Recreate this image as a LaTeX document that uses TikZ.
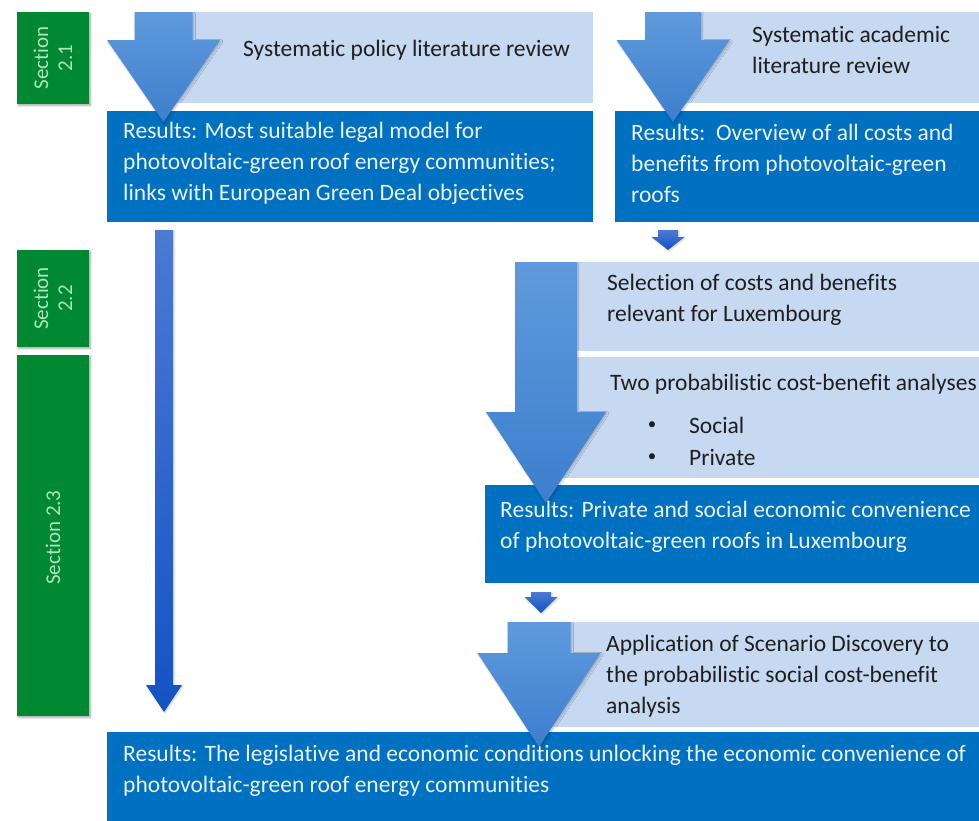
\documentclass[tikz,border=0pt]{standalone}
\usepackage{fontspec}
\setmainfont{Carlito}[Ligatures=NoCommon]
\usetikzlibrary{shadows.blur}

\definecolor{resblue}{RGB}{0,112,192}
\definecolor{steplight}{RGB}{198,217,241}
\definecolor{secgreen}{RGB}{0,136,50}
\definecolor{secgreentext}{RGB}{176,228,186}
\definecolor{restext}{RGB}{234,242,252}
\definecolor{steptext}{RGB}{30,30,30}
\definecolor{arrowtop}{RGB}{96,154,220}
\definecolor{arrowbot}{RGB}{60,126,206}
\definecolor{thintop}{RGB}{76,122,212}
\definecolor{thinbot}{RGB}{20,82,196}

\tikzset{
  box/.style={inner sep=0pt, outer sep=0pt, anchor=north west},
  lightbox/.style={box, fill=steplight},
  resbox/.style={box, fill=resblue},
  secbox/.style={box, fill=secgreen,
    blur shadow={shadow xshift=1.5pt, shadow yshift=-1.5pt, shadow blur steps=6, shadow opacity=35}},
  sectext/.style={rotate=90, text=secgreentext, align=center, inner sep=0pt,
    font=\fontsize{21}{24}\selectfont},
  steplabel/.style={anchor=west, align=left, inner sep=0pt, text=steptext,
    font=\fontsize{23.5}{31}\selectfont},
  reslabel/.style={steplabel, text=restext},
  bulletmark/.style={inner sep=0pt, text=steptext, font=\fontsize{17}{20}\selectfont},
  bigarrow/.style={top color=arrowtop, bottom color=arrowbot,
    blur shadow={shadow xshift=1pt, shadow yshift=-1.5pt, shadow blur steps=6, shadow opacity=25}},
  thinarrow/.style={top color=thintop, bottom color=thinbot,
    blur shadow={shadow xshift=1pt, shadow yshift=-1pt, shadow blur steps=4, shadow opacity=20}},
}

% block arrow: centre x, top y, shaft half-width, head half-width, head start y, tip y, style
\newcommand\blockarrow[7]{%
  \path[#7] ({#1-#3},#2) -- ({#1+#3},#2) -- ({#1+#3},#5) -- ({#1+#4},#5)
    -- (#1,#6) -- ({#1-#4},#5) -- ({#1-#3},#5) -- cycle;}

\begin{document}
\begin{tikzpicture}[x=1pt, y=-1pt]
\useasboundingbox (0,0) rectangle (979,820);
\clip (0,0) rectangle (979,820);

% section markers
\node[secbox, minimum width=72pt, minimum height=92pt]  (s21) at (17,12)  {};
\node[secbox, minimum width=72pt, minimum height=97pt]  (s22) at (17,250) {};
\node[secbox, minimum width=72pt, minimum height=361pt] (s23) at (17,355) {};
\node[sectext] at (s21.center) {Section\\2.1};
\node[sectext] at (s22.center) {Section\\2.2};
\node[sectext] at ([yshift=-2pt]s23.center) {Section 2.3};

% steps and results
\node[lightbox, minimum width=430pt, minimum height=91pt]  (policy)   at (163,12)  {};
\node[lightbox, minimum width=310pt, minimum height=91pt]  (academic) at (672,12)  {};
\node[resbox,   minimum width=486pt, minimum height=111pt] (legal)    at (107,111) {};
\node[resbox,   minimum width=380pt, minimum height=111pt] (overview) at (615,111) {};
\node[lightbox, minimum width=440pt, minimum height=89pt]  (select)   at (546,262) {};
\node[lightbox, minimum width=440pt, minimum height=121pt] (cba)      at (546,357) {};
\node[resbox,   minimum width=500pt, minimum height=98pt]  (conv)     at (485,485) {};
\node[lightbox, minimum width=450pt, minimum height=105pt] (scen)     at (538,622) {};
\node[resbox,   minimum width=880pt, minimum height=100pt] (final)    at (107,732) {};

% flow arrows
\blockarrow{163.5}{12}{29}{56.5}{40}{122}{bigarrow}
\blockarrow{673}{12}{28}{56.5}{40}{122}{bigarrow}
\blockarrow{546}{262}{31}{60}{412}{503}{bigarrow}
\blockarrow{539}{622}{31.5}{61.5}{653}{747}{bigarrow}
\blockarrow{668}{230}{10}{16.5}{237}{250}{thinarrow}
\blockarrow{541}{592}{10}{16.5}{597}{613}{thinarrow}
\blockarrow{164}{230}{9}{18}{685}{712}{thinarrow}

% labels
\node[steplabel] (tpolicy) at (243,50) {Systematic policy literature review};
\node[steplabel] (tacad) at (752,50) {Systematic academic\\literature review};
\node[reslabel] (tlegal) at (123,163) {Results: Most suitable legal model for\\photovoltaic-green roof energy communities;\\links with European Green Deal objectives};
\node[reslabel] (tover) at (631,163) {Results:\ \ Overview of all costs and\\benefits from photovoltaic-green\\roofs};
\node[steplabel] (tsel) at (607,300) {Selection of costs and benefits\\relevant for Luxembourg};
\node[steplabel] (tcba) at (610,384) {Two probabilistic cost-benefit analyses};
\node[bulletmark] (b1) at (652,426) {\textbullet};
\node[bulletmark] (b2) at (652,458) {\textbullet};
\node[steplabel] (tsoc) at (689,425) {Social};
\node[steplabel] (tpriv) at (689,457) {Private};
\node[reslabel] (tconv) at (500,527) {Results: Private and social economic convenience\\of photovoltaic-green roofs in Luxembourg};
\node[steplabel] (tscen) at (606,676) {Application of Scenario Discovery to\\the probabilistic social cost-benefit\\analysis};
\node[reslabel] (tfinal) at (123,771) {Results: The legislative and economic conditions unlocking the economic convenience of\\photovoltaic-green roof energy communities};
\end{tikzpicture}
\end{document}
